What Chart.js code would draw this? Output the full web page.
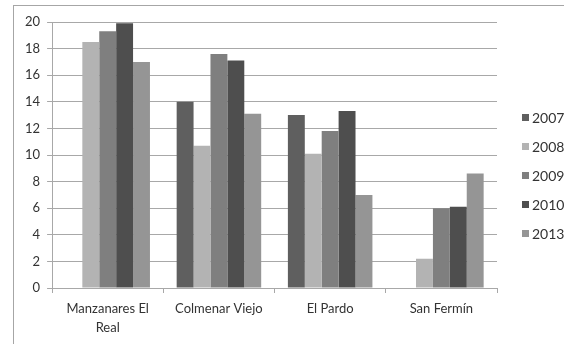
<!DOCTYPE html>
<html>
<head>
<meta charset="utf-8">
<script src="https://cdn.jsdelivr.net/npm/chart.js@4.4.0/dist/chart.umd.min.js"></script>
<style>
  html, body { margin: 0; padding: 0; overflow: hidden; background: #fff; width: 564px; height: 344px; }
  #frame { position: absolute; left: 13px; top: 5px; width: 700px; height: 400px;
           border-left: 1px solid #a6a6a6; border-top: 1px solid #a6a6a6; }
  #wrap { position: absolute; left: 0; top: 0; }
  #legend { position: absolute; left: 522px; top: 110px; font-family: Lato, 'Liberation Sans', sans-serif;
            font-size: 14px; color: #333; white-space: nowrap; }
  #legend .item { height: 29px; line-height: 15px; display: flex; align-items: flex-start; }
  #legend .box { width: 7px; height: 7px; margin-top: 4px; margin-right: 3px; }
</style>
</head>
<body>
<div id="frame"></div>
<div id="wrap"><canvas id="c" width="564" height="344"></canvas></div>
<div id="legend"></div>
<script>
const categories = [["Manzanares El", "Real"], "Colmenar Viejo", "El Pardo", "San Fermín"];
const years = ["2007", "2008", "2009", "2010", "2013"];
const v2007 = [null, 14.0, 13.0, null];
const v2008 = [18.5, 10.7, 10.1, 2.2];
const v2009 = [19.3, 17.6, 11.8, 6.0];
const v2010 = [19.9, 17.1, 13.3, 6.1];
const v2013 = [17.0, 13.1, 7.0, 8.6];
const yTicks = [0, 2, 4, 6, 8, 10, 12, 14, 16, 18, 20];

const seriesValues = [v2007, v2008, v2009, v2010, v2013];
const seriesColors = ["#5f5f5f", "#b3b3b3", "#7f7f7f", "#4e4e4e", "#959595"];

Chart.defaults.font.family = "Lato, 'Liberation Sans', sans-serif";
Chart.defaults.font.size = 13;
Chart.defaults.color = "#333";

const chart = new Chart(document.getElementById("c"), {
  type: "bar",
  data: {
    labels: categories,
    datasets: years.map((y, i) => ({
      label: y,
      data: seriesValues[i],
      backgroundColor: seriesColors[i],
      borderWidth: 0,
      barPercentage: 1,
      categoryPercentage: 0.76
    }))
  },
  options: {
    responsive: false,
    animation: false,
    devicePixelRatio: 1,
    layout: { padding: { left: 18, top: 22, right: 67, bottom: 0 } },
    plugins: {
      tooltip: { enabled: false },
      legend: { display: false }
    },
    scales: {
      x: {
        grid: { drawOnChartArea: false, drawTicks: true, tickLength: 5, color: "#a8a8a8", offset: true },
        border: { color: "#a8a8a8" },
        ticks: { padding: 6, maxRotation: 0, autoSkip: false, color: "#333", font: { lineHeight: 1.5 } }
      },
      y: {
        min: 0, max: 20,
        afterBuildTicks: (axis) => { axis.ticks = yTicks.map(v => ({ value: v })); },
        grid: { color: "#a8a8a8", tickLength: 5 },
        border: { color: "#a8a8a8" },
        ticks: { padding: 7, color: "#333" }
      }
    }
  }
});

// Series key on the right, one row per dataset
const legendEl = document.getElementById("legend");
chart.data.datasets.forEach((ds) => {
  const row = document.createElement("div");
  row.className = "item";
  const box = document.createElement("span");
  box.className = "box";
  box.style.background = ds.backgroundColor;
  const txt = document.createElement("span");
  txt.textContent = ds.label;
  row.appendChild(box);
  row.appendChild(txt);
  legendEl.appendChild(row);
});
</script>
</body>
</html>
